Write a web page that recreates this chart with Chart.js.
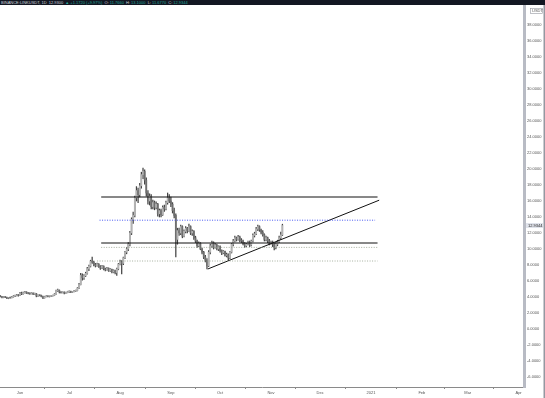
<!DOCTYPE html>
<html>
<head>
<meta charset="utf-8">
<script src="https://cdn.jsdelivr.net/npm/chart.js@4.4.1/dist/chart.umd.min.js"></script>
<style>
    body{margin:0;background:#fff;}
    #wrap{position:relative;width:545px;height:398px;}
    #top{position:absolute;left:0;top:0;width:545px;height:5px;background:#131722;color:#d1d4dc;
        font:4px 'Liberation Sans',Arial,sans-serif;line-height:5px;white-space:nowrap;overflow:hidden;}
    #top span{padding-left:1px;}
    .g{color:#26a69a;}
</style>
</head>
<body>
<div id="wrap">
    <canvas id="link-grafica" width="545" height="398"></canvas>
    <div id="top"><span>BINANCE:LINKUSDT, 1D</span> <span>12.9300</span> <span class="g">▲ +1.1720 (+9.97%)</span> <span>O:</span><span class="g">11.7660</span> <span>H:</span><span class="g">13.1000</span> <span>L:</span><span class="g">11.6770</span> <span>C:</span><span class="g">12.9344</span></div>
</div>
<script>
// dias contados desde el 1 de junio de 2020, primera vela el 19 de mayo
const primerDia = -13;

// velas diarias LINK/USDT (19 may - 8 nov 2020)
const aperturas = [
    4.05,4.10,4.06,3.95,4.00,3.97,3.86,3.92,3.90,4.02,4.12,4.18,4.26,
    4.20,4.48,4.40,4.55,4.60,4.50,4.45,4.42,4.48,4.38,4.40,4.12,4.22,4.20,4.05,3.90,4.05,4.12,4.08,4.10,4.15,4.20,4.35,4.80,4.85,4.62,4.55,4.60,4.48,4.55,
    4.68,4.70,4.62,4.66,4.78,4.80,5.10,5.55,6.70,6.40,6.65,6.95,7.55,7.85,8.45,8.35,8.05,7.90,8.10,7.80,7.60,7.85,7.50,7.40,7.60,7.30,7.45,7.10,7.30,7.05,7.50,
    8.10,8.40,8.20,8.90,9.60,10.0,10.6,12.0,13.7,14.2,16.4,17.3,16.8,17.9,19.3,19.7,18.6,17.0,16.0,16.6,15.3,15.8,15.2,15.6,14.4,14.8,14.3,15.2,15.0,15.8,16.4,
    16.0,15.6,14.8,14.2,11.2,12.3,12.0,12.8,11.6,12.2,12.6,12.3,12.8,12.0,12.2,11.4,11.0,10.4,10.7,10.0,9.60,9.00,8.60,7.90,9.60,10.4,10.8,10.2,10.5,10.0,
    10.3,9.80,9.50,9.70,9.20,9.30,8.90,9.60,10.6,11.0,11.4,11.2,11.5,11.1,11.0,10.7,10.4,10.6,10.9,10.5,11.0,11.7,11.9,12.5,12.8,12.4,12.1,11.8,11.2,11.4,11.0,
    10.7,10.9,10.6,10.2,10.6,10.9,11.4,11.766
];
const maximos = [
    4.16,4.18,4.08,4.05,4.04,4.00,3.96,3.98,4.08,4.18,4.24,4.32,4.30,
    4.58,4.62,4.62,4.70,4.66,4.56,4.52,4.54,4.52,4.48,4.44,4.28,4.26,4.24,4.12,4.10,4.18,4.16,4.14,4.20,4.24,4.42,4.86,4.98,4.88,4.68,4.66,4.64,4.60,4.72,
    4.76,4.74,4.70,4.82,4.86,5.18,5.70,6.95,6.90,6.80,7.10,7.70,8.00,8.60,9.00,8.50,8.20,8.25,8.18,7.92,7.95,7.90,7.60,7.70,7.64,7.55,7.50,7.40,7.35,7.60,8.20,
    8.60,8.55,9.00,9.70,10.2,10.8,12.2,13.9,14.6,16.6,17.8,17.6,18.2,19.6,20.1,19.9,18.9,17.3,16.9,16.8,16.1,16.0,15.9,15.7,15.0,15.0,15.4,15.5,16.0,17.0,16.8,
    16.5,15.8,15.1,14.4,12.6,12.6,13.0,12.9,12.4,12.8,12.7,13.1,12.9,12.4,12.3,11.6,11.1,10.9,10.8,10.1,9.70,9.20,8.80,9.80,10.6,11.0,10.9,10.7,10.6,10.4,
    10.4,9.90,9.80,9.75,9.50,9.40,9.70,10.7,11.2,11.6,11.5,11.7,11.6,11.3,11.1,10.8,10.7,11.0,11.0,11.1,11.9,12.1,12.7,13.0,12.9,12.5,12.3,11.9,11.6,11.5,11.2,
    11.0,11.0,10.7,10.8,11.1,11.6,12.1,13.1
];
const minimos = [
    3.98,4.00,3.88,3.90,3.92,3.80,3.78,3.85,3.88,3.98,4.05,4.12,4.10,
    4.16,4.30,4.36,4.48,4.44,4.40,4.32,4.38,4.30,4.32,4.02,4.06,4.14,4.00,3.78,3.86,4.00,4.02,4.00,4.05,4.10,4.16,4.32,4.70,4.50,4.48,4.50,4.40,4.44,4.52,
    4.58,4.55,4.58,4.62,4.70,4.76,5.05,5.50,6.10,6.20,6.55,6.85,7.30,7.75,8.20,7.90,7.75,7.85,7.70,7.45,7.55,7.40,7.25,7.35,7.20,7.20,7.00,7.02,6.90,6.70,7.40,
    8.00,6.90,8.05,8.80,9.40,9.80,10.4,11.8,13.2,14.0,16.0,15.8,16.5,17.6,18.8,18.1,16.6,15.6,15.5,15.0,15.0,14.9,15.0,14.1,14.0,14.0,14.2,14.7,14.9,15.6,15.8,
    15.3,14.5,13.9,9.00,10.6,11.7,11.8,11.4,11.5,12.0,12.0,12.2,11.8,11.7,11.2,10.8,10.2,10.3,9.90,9.40,8.80,8.40,7.50,7.80,9.40,10.2,10.0,10.1,9.90,9.80,
    9.60,9.30,9.40,9.10,9.00,8.60,8.80,9.50,10.4,10.9,11.0,11.1,10.9,10.8,10.5,10.2,10.3,10.5,10.3,10.4,10.9,11.5,11.8,12.3,12.2,11.9,11.6,11.0,11.0,10.8,10.5,
    10.6,10.3,9.90,10.0,10.4,10.8,11.2,11.677
];
const cierres = [
    4.10,4.06,3.95,4.00,3.97,3.86,3.92,3.90,4.02,4.12,4.18,4.26,4.20,
    4.48,4.40,4.55,4.60,4.50,4.45,4.42,4.48,4.38,4.40,4.12,4.22,4.20,4.05,3.90,4.05,4.12,4.08,4.10,4.15,4.20,4.35,4.80,4.85,4.62,4.55,4.60,4.48,4.55,4.68,
    4.70,4.62,4.66,4.78,4.80,5.10,5.55,6.70,6.40,6.65,6.95,7.55,7.85,8.45,8.35,8.05,7.90,8.10,7.80,7.60,7.85,7.50,7.40,7.60,7.30,7.45,7.10,7.30,7.05,7.50,8.10,
    8.40,8.20,8.90,9.60,10.0,10.6,12.0,13.7,14.2,16.4,17.3,16.8,17.9,19.3,19.7,18.6,17.0,16.0,16.6,15.3,15.8,15.2,15.6,14.4,14.8,14.3,15.2,15.0,15.8,16.4,16.0,
    15.6,14.8,14.2,11.2,12.3,12.0,12.8,11.6,12.2,12.6,12.3,12.8,12.0,12.2,11.4,11.0,10.4,10.7,10.0,9.60,9.00,8.60,7.90,9.60,10.4,10.8,10.2,10.5,10.0,10.3,
    9.80,9.50,9.70,9.20,9.30,8.90,9.60,10.6,11.0,11.4,11.2,11.5,11.1,11.0,10.7,10.4,10.6,10.9,10.5,11.0,11.7,11.9,12.5,12.8,12.4,12.1,11.8,11.2,11.4,11.0,10.7,
    10.9,10.6,10.2,10.6,10.9,11.4,11.766,12.9344
];

// lineas dibujadas: [dia inicio, dia fin, precio]
const resistencia = [49.5, 218, 16.5];
const lineaAzul = [48.5, 216.5, 13.6];
const soporte = [49.5, 218, 10.75];
const punteadaAlta = [49.5, 218, 10.2];
const punteadaBaja = [47, 218, 8.5];
// tendencia: [dia, precio] inicio y fin
const tendenciaInicio = [114.5, 7.5];
const tendenciaFin = [219, 16.1];

const diasMes = [0, 30, 61, 92, 122, 153, 183, 214, 245, 273, 304];
const nombresMes = ['Jun','Jul','Aug','Sep','Oct','Nov','Dec','2021','Feb','Mar','Apr'];
const preciosEje = [-6,-4,-2,0,2,4,6,8,10,12,14,16,18,20,22,24,26,28,30,32,34,36,38];

const cuerpos = cierres.map((c, i) => ({x: primerDia + i, y: [aperturas[i], c]}));
const mechas = cierres.map((c, i) => ({x: primerDia + i, y: [minimos[i], maximos[i]]}));
const coloresCuerpo = cierres.map((c, i) => c >= aperturas[i] ? '#b4b4b4' : '#6e6e6e');

function horizontal(l){ return [{x: l[0], y: l[2]}, {x: l[1], y: l[2]}]; }
function linea(datos, color, ancho, guion){
    return {type: 'line', data: datos, borderColor: color, borderWidth: ancho, borderDash: guion,
        pointRadius: 0, fill: false, tension: 0, order: 0};
}

const fuente = {family: "'Liberation Sans', Arial, sans-serif", size: 4};

const etiquetas = {
    id: 'etiquetas',
    afterDraw(chart){
        const c = chart.ctx;
        const y = chart.scales.y;
        const ultimo = cierres[cierres.length - 1];
        const py = y.getPixelForValue(ultimo);
        c.save();
        c.fillStyle = '#e0e3eb';
        c.fillRect(526, py - 2.5, 17, 5);
        c.fillStyle = '#222';
        c.font = "4px 'Liberation Sans', Arial, sans-serif";
        c.textBaseline = 'middle';
        c.fillText(ultimo.toFixed(4), 528, py);
        // caja de moneda
        c.strokeStyle = '#9598a1';
        c.lineWidth = 0.6;
        c.strokeRect(530.5, 8.5, 12, 5);
        c.fillStyle = '#555';
        c.fillText('USDT', 532, 11);
        // borde derecho
        c.fillStyle = '#9598a1';
        c.fillRect(543.5, 5, 1.5, 393);
        c.restore();
    }
};

new Chart(document.getElementById('link-grafica'), {
    type: 'bar',
    data: {
        datasets: [
            linea(horizontal(resistencia), '#111', 1, []),
            linea(horizontal(lineaAzul), '#3346ee', 0.9, [1, 1.5]),
            linea(horizontal(soporte), '#111', 1, []),
            linea(horizontal(punteadaAlta), '#8f9a86', 0.8, [1, 1.5]),
            linea(horizontal(punteadaBaja), '#8f9a86', 0.8, [1, 1.5]),
            linea([{x: tendenciaInicio[0], y: tendenciaInicio[1]}, {x: tendenciaFin[0], y: tendenciaFin[1]}], '#111', 1, []),
            {data: mechas, backgroundColor: '#444', barThickness: 0.6, grouped: false, order: 2},
            {data: cuerpos, backgroundColor: coloresCuerpo, borderWidth: 0,
                barThickness: 1.1, grouped: false, minBarLength: 0.6, order: 1}
        ]
    },
    options: {
        responsive: false,
        animation: false,
        layout: {padding: {top: 5, left: 0, right: 0, bottom: 0}},
        plugins: {legend: {display: false}, tooltip: {enabled: false}},
        scales: {
            x: {
                type: 'linear',
                offset: false,
                min: -12.2,
                max: 307.3,
                afterBuildTicks: s => { s.ticks = diasMes.map(v => ({value: v})); },
                afterFit: s => { s.height = 11; },
                ticks: {
                    autoSkip: false, maxRotation: 0, padding: 1, color: '#555', font: fuente,
                    callback: v => nombresMes[diasMes.indexOf(v)]
                },
                grid: {drawOnChartArea: false, tickLength: 2, color: '#888'},
                border: {color: '#8a8a8a', width: 1}
            },
            y: {
                position: 'right',
                min: -7.25,
                max: 40.5,
                afterBuildTicks: s => { s.ticks = preciosEje.map(v => ({value: v})); },
                afterFit: s => { s.width = 21; },
                ticks: {padding: 1, color: '#555', font: fuente, callback: v => v.toFixed(4)},
                grid: {drawOnChartArea: false, tickLength: 2, color: '#888'},
                border: {color: '#b8bbc4', width: 3}
            }
        }
    },
    plugins: [etiquetas]
});
</script>
</body>
</html>
